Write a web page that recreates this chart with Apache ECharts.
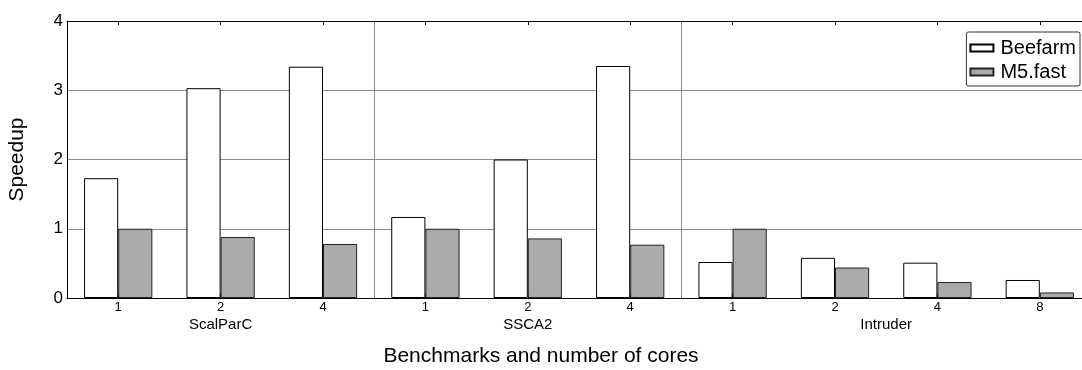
<!DOCTYPE html>
<html lang="en">
<head>
    <meta charset="UTF-8">
    <title>Speedup</title>
    <script type="text/javascript" src="https://cdn.jsdelivr.net/npm/echarts@6/dist/echarts.min.js"></script>
    <style>
        html, body { margin: 0; padding: 0; background: #fff; overflow: hidden; }
    </style>
</head>
<body>
<div id="main" style="width: 1082px; height: 370px"></div>

<script type="text/javascript">
    var myChart = echarts.init(document.getElementById('main'));

    // cores per benchmark
    var categories = ['1', '2', '4', '1', '2', '4', '1', '2', '4', '8'];
    var beefarm = [1.73, 3.03, 3.34, 1.17, 2.0, 3.35, 0.52, 0.58, 0.51, 0.26];
    var m5fast = [1.0, 0.88, 0.78, 1.0, 0.86, 0.77, 1.0, 0.44, 0.23, 0.08];
    var groups = ['ScalParC', 'SSCA2', 'Intruder'];
    var groupSizes = [3, 3, 4];
    var yTicks = [0, 1, 2, 3, 4];

    // group label centres and separators, in category units
    var groupCenters = [];
    var separators = [];
    var pos = 0;
    for (var i = 0; i < groups.length; i++) {
        groupCenters.push(pos + groupSizes[i] / 2);
        pos += groupSizes[i];
        if (i < groups.length - 1) separators.push(pos);
    }

    var font = 'Liberation Sans, Arial, sans-serif';

    option = {
        animation: false,
        textStyle: { fontFamily: font },
        // the plot runs a little past the right edge of the page
        grid: { left: 67, right: -9, top: 21, bottom: 72, outerBoundsMode: 'none' },
        legend: {
            orient: 'vertical',
            right: 2,
            top: 32,
            icon: 'rect',
            itemWidth: 23,
            itemHeight: 7,
            itemGap: 4,
            padding: [6, 4, 4, 3],
            borderColor: '#333',
            borderWidth: 1,
            borderRadius: 2,
            backgroundColor: '#fff',
            textStyle: { fontSize: 20, color: '#000', fontFamily: font, padding: [0, 0, 0, 2] },
            data: ['Beefarm', 'M5.fast']
        },
        xAxis: [{
            type: 'category',
            data: categories,
            position: 'bottom',
            axisLine: { lineStyle: { color: '#000', width: 1 } },
            axisTick: { show: true, inside: true, alignWithLabel: true, length: 4, lineStyle: { color: '#000' } },
            axisLabel: { fontSize: 13, color: '#000', margin: 3, fontFamily: font },
            splitLine: {
                show: true,
                interval: function (index) { return separators.indexOf(index) >= 0; },
                lineStyle: { color: '#8c8c8c', width: 1 }
            },
            name: 'Benchmarks and number of cores',
            nameLocation: 'middle',
            nameGap: 48,
            nameTextStyle: { fontSize: 21, color: '#000', fontFamily: font, padding: [0, 76, 0, 0] }
        }, {
            type: 'category',
            data: categories,
            position: 'top',
            axisLine: { lineStyle: { color: '#000', width: 1 } },
            axisTick: { show: true, inside: true, alignWithLabel: true, length: 4, lineStyle: { color: '#000' } },
            axisLabel: { show: false }
        }, {
            type: 'value',
            min: 0,
            max: categories.length,
            position: 'bottom',
            axisLine: { show: false },
            axisTick: { show: false },
            splitLine: { show: false },
            axisLabel: {
                customValues: groupCenters,
                fontSize: 15,
                color: '#000',
                margin: 19,
                fontFamily: font,
                formatter: function (v) {
                    var k = groupCenters.indexOf(v);
                    return k >= 0 ? groups[k] : '';
                }
            }
        }],
        yAxis: {
            type: 'value',
            min: yTicks[0],
            max: yTicks[yTicks.length - 1],
            interval: 1,
            axisLine: { show: true, lineStyle: { color: '#000', width: 1 } },
            axisTick: { show: false },
            axisLabel: { fontSize: 17, color: '#000', margin: 4, fontFamily: font },
            splitLine: { show: true, lineStyle: { color: '#8c8c8c', width: 1 } },
            name: 'Speedup',
            nameLocation: 'middle',
            nameGap: 39,
            nameTextStyle: { fontSize: 21, color: '#000', fontFamily: font }
        },
        series: [{
            name: 'Beefarm',
            type: 'bar',
            data: beefarm,
            barGap: 0,
            barCategoryGap: '33.3%',
            itemStyle: { color: '#fff', borderColor: '#000', borderWidth: 1 }
        }, {
            name: 'M5.fast',
            type: 'bar',
            data: m5fast,
            barGap: 0,
            barCategoryGap: '33.3%',
            itemStyle: { color: '#aaaaaa', borderColor: '#222', borderWidth: 1 }
        }]
    };

    myChart.setOption(option);
</script>
</body>
</html>
